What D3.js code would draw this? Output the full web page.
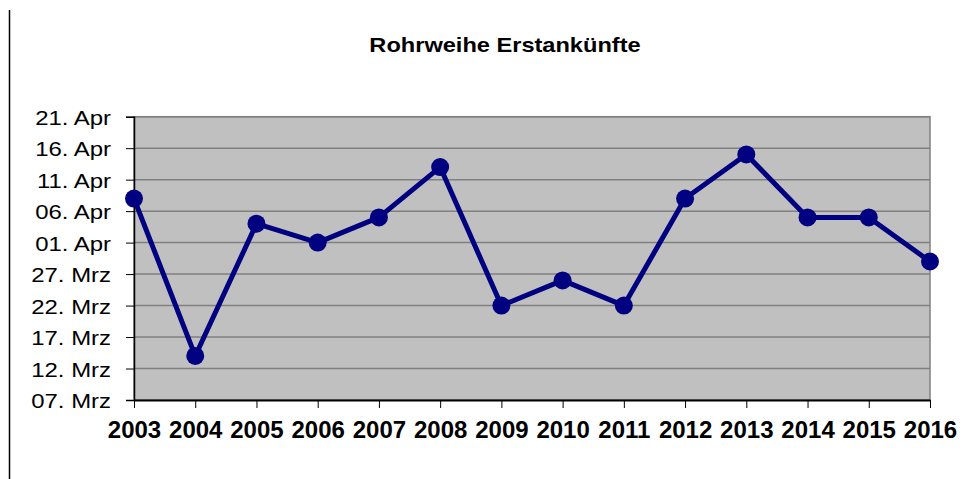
<!DOCTYPE html>
<html><head><meta charset="utf-8">
<script src="https://cdn.jsdelivr.net/npm/d3@7"></script>
<style>body{margin:0;background:#fff}svg{display:block}</style>
</head><body>
<svg id="c" width="974" height="479"></svg>
<script>
const years = ["2003","2004","2005","2006","2007","2008","2009","2010","2011","2012","2013","2014","2015","2016"];
// arrival dates as "MM-DD"
const arrivals = ["04-08","03-14","04-04","04-01","04-05","04-13","03-22","03-26","03-22","04-08","04-15","04-05","04-05","03-29"];
const tickLabels = ["07. Mrz","12. Mrz","17. Mrz","22. Mrz","27. Mrz","01. Apr","06. Apr","11. Apr","16. Apr","21. Apr"];
const tickDates = ["03-07","03-12","03-17","03-22","03-27","04-01","04-06","04-11","04-16","04-21"];
const title = "Rohrweihe Erstankünfte";

const toDate = s => new Date(2001, +s.slice(0,2)-1, +s.slice(3,5));
const svg = d3.select("#c");
const L=134, R=930, T=116.7, B=400;

svg.append("line").attr("x1",9.5).attr("x2",9.5).attr("y1",10).attr("y2",479).attr("stroke","#000").attr("stroke-width",1.5);

const x = d3.scalePoint().domain(years).range([L,R]).padding(0);
const y = d3.scaleTime().domain([toDate(tickDates[0]), toDate(tickDates[tickDates.length-1])]).range([B,T]);

svg.append("rect").attr("x",L).attr("y",T).attr("width",R-L).attr("height",B-T).attr("fill","#c0c0c0").attr("stroke","#808080").attr("stroke-width",1.5);

// gridlines
svg.append("g").selectAll("line").data(tickDates.slice(1)).join("line")
  .attr("x1",L).attr("x2",R).attr("y1",d=>y(toDate(d))).attr("y2",d=>y(toDate(d)))
  .attr("stroke","#808080").attr("stroke-width",1.5);

// y axis
const sx = 1.14;
const yAxis = d3.axisLeft(y).tickValues(tickDates.map(toDate)).tickSize(8).tickPadding(9)
  .tickFormat((d,i)=>tickLabels[i]);
const gy = svg.append("g").attr("transform",`translate(${L},0)`).call(yAxis);
gy.select(".domain").attr("stroke","#000").attr("stroke-width",1.5);
gy.selectAll(".tick line").attr("stroke","#000").attr("stroke-width",1);
gy.selectAll("text").attr("font-family","Liberation Sans, Arial, sans-serif").attr("font-size",21).attr("fill","#000")
  .attr("dy","0.36em").attr("x",-23/sx).attr("transform",`scale(${sx},1)`);

// x axis
const xAxis = d3.axisBottom(x).tickSize(8).tickSizeOuter(0).tickPadding(13);
const gx = svg.append("g").attr("transform",`translate(0,${B})`).call(xAxis);
gx.select(".domain").attr("stroke","#000").attr("stroke-width",2);
gx.selectAll(".tick line").attr("stroke","#000").attr("stroke-width",1);
gx.selectAll("text").attr("font-family","Liberation Sans, Arial, sans-serif").attr("font-size",24).attr("font-weight","bold").attr("fill","#000");

// line
const line = d3.line().x((d,i)=>x(years[i])).y(d=>y(toDate(d)));
svg.append("path").datum(arrivals).attr("d",line).attr("fill","none").attr("stroke","#000080").attr("stroke-width",5).attr("stroke-linejoin","round");
svg.append("g").selectAll("circle").data(arrivals).join("circle")
  .attr("cx",(d,i)=>x(years[i])).attr("cy",d=>y(toDate(d))).attr("r",9).attr("fill","#000080");

svg.append("text").attr("transform","translate(505,52) scale(1.18,1)").attr("text-anchor","middle")
  .attr("font-family","Liberation Sans, Arial, sans-serif").attr("font-size",20).attr("font-weight","bold").text(title);
</script>
</body></html>
